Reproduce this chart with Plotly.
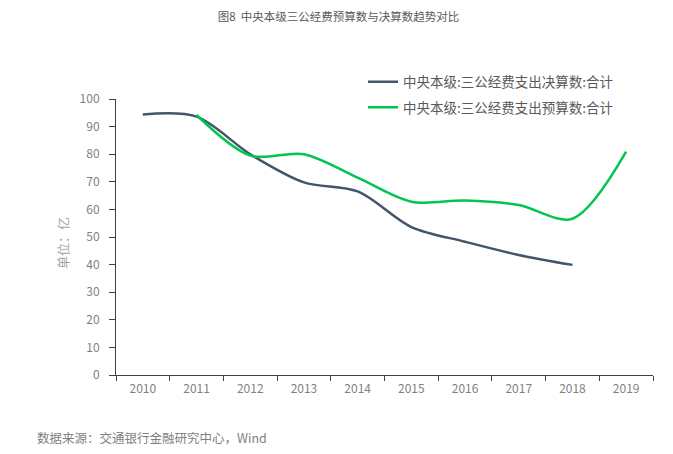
import plotly.graph_objects as go

years = ["2010", "2011", "2012", "2013", "2014", "2015", "2016", "2017", "2018", "2019"]
final_accounts = [94.4, 93.6, 80.0, 69.8, 66.5, 53.6, 48.3, 43.5, 39.9, None]
budget = [None, 94.2, 79.5, 80.0, 71.5, 62.8, 63.2, 61.6, 56.6, 80.9]

name_final = "中央本级:三公经费支出决算数:合计"
name_budget = "中央本级:三公经费支出预算数:合计"

FONT = "Noto Sans CJK SC"

fig = go.Figure()
fig.add_trace(go.Scatter(x=years, y=final_accounts, name=name_final, mode="lines",
                         legendgroup="a",
                         line=dict(color="#44546A", width=2.5, shape="spline", smoothing=0.9),
                         connectgaps=False))
fig.add_trace(go.Scatter(x=years, y=budget, name=name_budget, mode="lines",
                         legendgroup="b",
                         line=dict(color="#00C650", width=2.5, shape="spline", smoothing=0.9),
                         connectgaps=False))

fig.update_layout(
    width=665, height=446,
    margin=dict(l=108, r=20, t=91, b=79, autoexpand=False),
    paper_bgcolor="white", plot_bgcolor="white",
    font=dict(family=FONT, color="#7F7F7F", size=11),
    title=dict(text="图8  中央本级三公经费预算数与决算数趋势对比", x=0.497, xanchor="center",
               y=0.98, yanchor="middle", font=dict(size=11.5, color="#595959", family=FONT)),
    legend=dict(x=0.46, y=1.118, xanchor="left", yanchor="top", bgcolor="rgba(0,0,0,0)",
                font=dict(size=13.5, color="#595959", family=FONT), tracegroupgap=5,
                traceorder="grouped"),
    showlegend=True,
    xaxis=dict(type="category", range=[-0.5, 9.5], tickson="boundaries", ticks="outside",
               ticklen=5, tickcolor="#404040", showline=True, linecolor="#404040",
               linewidth=1, showgrid=False, tickfont=dict(size=12, color="#7F7F7F"),
               ticklabelstandoff=3, zeroline=False),
    yaxis=dict(range=[0, 100], dtick=10, ticks="outside", ticklen=6, tickcolor="#404040",
               showline=True, linecolor="#404040", linewidth=1, showgrid=False,
               zeroline=False, tickfont=dict(size=12, color="#7F7F7F"),
               ticklabelstandoff=7),
)

fig.add_annotation(text="单位：亿", xref="paper", yref="paper", x=-0.1006, y=0.478,
                   xanchor="center", yanchor="middle", textangle=-90, showarrow=False,
                   font=dict(size=13, color="#A6A6A6", family=FONT))

fig.add_annotation(text="数据来源：交通银行金融研究中心，Wind", xref="paper", yref="paper",
                   x=-0.151, y=-0.225, xanchor="left", yanchor="middle", showarrow=False,
                   font=dict(size=12.5, color="#7F7F7F", family=FONT))

fig.write_html("out.html")
